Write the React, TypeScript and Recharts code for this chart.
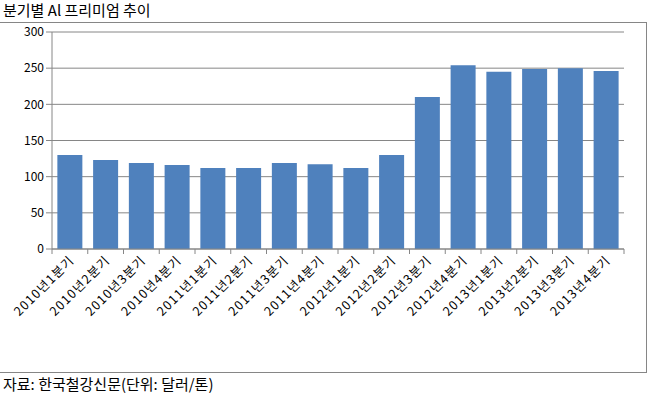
import React from 'react';
import { BarChart, Bar, XAxis, YAxis, CartesianGrid } from 'recharts';

const quarters = [
  '2010년1분기', '2010년2분기', '2010년3분기', '2010년4분기',
  '2011년1분기', '2011년2분기', '2011년3분기', '2011년4분기',
  '2012년1분기', '2012년2분기', '2012년3분기', '2012년4분기',
  '2013년1분기', '2013년2분기', '2013년3분기', '2013년4분기',
];
const premium = [130, 123, 119, 116, 112, 112, 119, 117, 112, 130, 210, 254, 245, 249, 250, 246];
const yTicks = [0, 50, 100, 150, 200, 250, 300];

const data = quarters.map((q, i) => ({ quarter: q, premium: premium[i] }));

const FONT = '"Malgun Gothic", "Noto Sans CJK KR", sans-serif';
const AXIS_GRAY = '#868686';

const QuarterTick = (props: any) => {
  const { x, y, payload, index } = props;
  const half = payload.offset || 0;
  return (
    <g>
      <line x1={x - half} y1={y - 8} x2={x - half} y2={y - 3} stroke={AXIS_GRAY} />
      {index === quarters.length - 1 && (
        <line x1={x + half} y1={y - 8} x2={x + half} y2={y - 3} stroke={AXIS_GRAY} />
      )}
      <text
        x={x + 5}
        y={y + 4}
        textAnchor="end"
        fontSize={12.5}
        letterSpacing={1.2}
        fontFamily={FONT}
        fill="#000"
        transform={`rotate(-45, ${x + 5}, ${y + 4})`}
      >
        {payload.value}
      </text>
    </g>
  );
};

export default function App() {
  return (
    <div style={{ position: 'relative', width: 649, height: 397, background: '#fff', fontFamily: FONT }}>
      <style>{`body { margin: 0; }`}</style>
      <div style={{ position: 'absolute', left: 3, top: 1, fontSize: 15, color: '#000', lineHeight: '18px' }}>
        분기별 Al 프리미엄 추이
      </div>
      <div
        style={{
          position: 'absolute',
          left: -1,
          top: 22,
          width: 648,
          height: 351,
          border: `1px solid ${AXIS_GRAY}`,
          boxSizing: 'border-box',
        }}
      />
      <div style={{ position: 'absolute', left: 0, top: 22 }}>
        <BarChart
          width={649}
          height={352}
          data={data}
          margin={{ top: 10, right: 25, left: 0, bottom: 45 }}
          barCategoryGap="15%"
        >
          <CartesianGrid vertical={false} stroke={AXIS_GRAY} />
          <XAxis
            dataKey="quarter"
            interval={0}
            height={80}
            stroke={AXIS_GRAY}
            tickLine={false}
            tick={<QuarterTick />}
          />
          <YAxis
            width={52}
            domain={[0, 300]}
            ticks={yTicks}
            stroke={AXIS_GRAY}
            tickSize={6}
            tick={{ fontSize: 12, fill: '#000', fontFamily: FONT }}
          />
          <Bar dataKey="premium" fill="#4F81BD" isAnimationActive={false} />
        </BarChart>
      </div>
      <div style={{ position: 'absolute', left: 3, top: 374, fontSize: 15, color: '#000', lineHeight: '20px' }}>
        자료: 한국철강신문(단위: 달러/톤)
      </div>
    </div>
  );
}
